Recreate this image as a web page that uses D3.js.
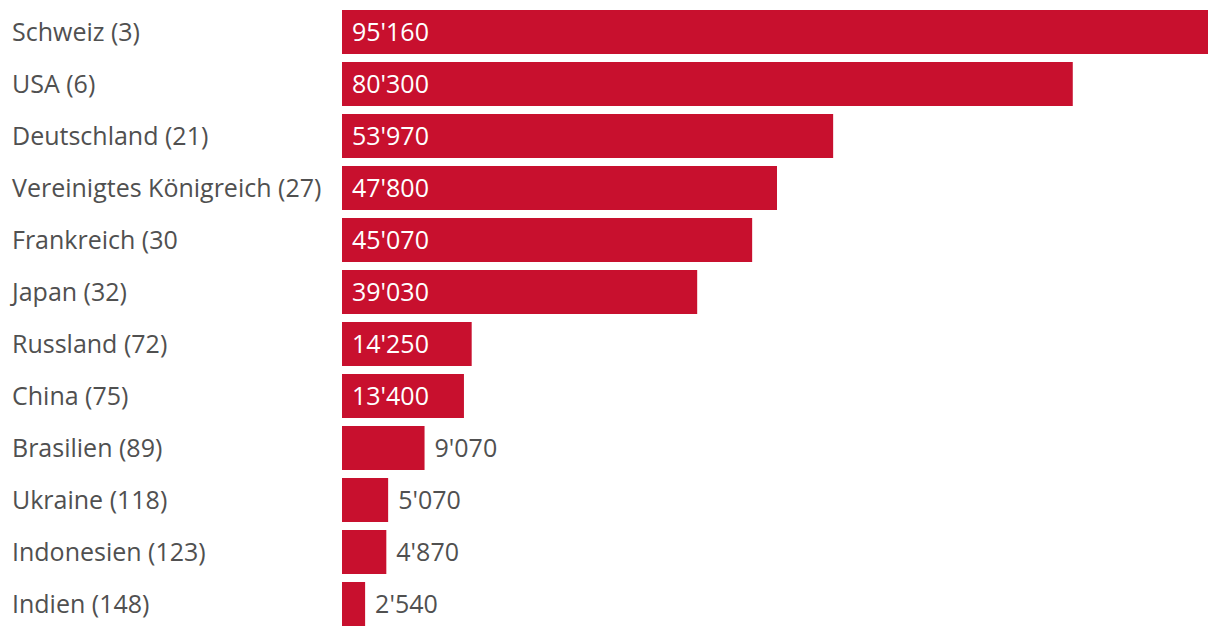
<!DOCTYPE html>
<html><head><meta charset="utf-8">
<script src="https://cdn.jsdelivr.net/npm/d3@7"></script>
<style>
body{margin:0;background:#fff;}
text{font-family:"Open Sans",sans-serif;}
</style></head>
<body><svg id="c" width="1220" height="636"></svg>
<script>
const categories = ["Schweiz (3)","USA (6)","Deutschland (21)","Vereinigtes Königreich (27)","Frankreich (30","Japan (32)","Russland (72)","China (75)","Brasilien (89)","Ukraine (118)","Indonesien (123)","Indien (148)"];
const values = [95160,80300,53970,47800,45070,39030,14250,13400,9070,5070,4870,2540];

const svg = d3.select("#c");
const x0 = 342, x1 = 1208;
const x = d3.scaleLinear().domain([0, d3.max(values)]).range([x0, x1]);
const y = d3.scaleBand().domain(categories).range([10, 626]).paddingInner(8/52).paddingOuter(0);
const fmt = v => d3.format(",")(v).replace(/,/g, "'");
const fs = 25;

const rows = svg.selectAll("g.row").data(categories.map((c,i)=>({c, v: values[i]}))).enter().append("g");
rows.append("text").attr("x", 12).attr("y", d => y(d.c) + y.bandwidth()/2).attr("dy","0.35em")
  .attr("font-size", fs).attr("fill", "#505050").text(d => d.c);
rows.append("rect").attr("x", x0).attr("y", d => y(d.c)).attr("width", d => x(d.v) - x0)
  .attr("height", y.bandwidth()).attr("fill", "#c8102e");
rows.append("text").attr("y", d => y(d.c) + y.bandwidth()/2).attr("dy","0.35em")
  .attr("font-size", fs)
  .each(function(d){
    const inside = (x(d.v) - x0) > 100;
    d3.select(this).attr("x", inside ? x0 + 10 : x(d.v) + 10)
      .attr("fill", inside ? "#ffffff" : "#505050").text(fmt(d.v));
  });
</script></body></html>
